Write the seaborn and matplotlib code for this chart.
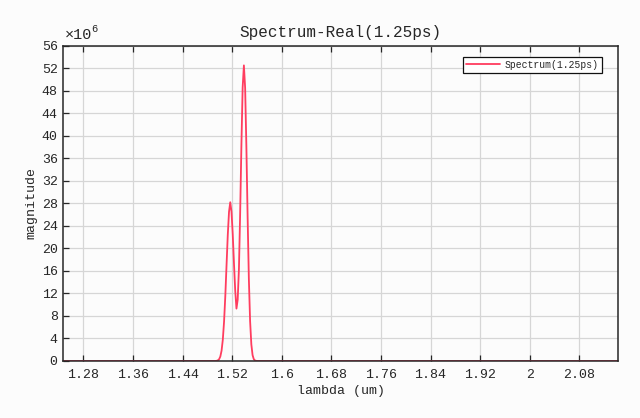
"""Spectrum plot: real part of the 1.25 ps pulse spectrum vs wavelength."""

import matplotlib
matplotlib.use("Agg")
import matplotlib.pyplot as plt
import pandas as pd
import seaborn as sns

# wavelength (um) and magnitude (x 1e6)
LAMBDA_UM = [
    1.2477, 1.493, 1.495, 1.497, 1.499, 1.501, 1.503, 1.505, 1.507, 1.509,
    1.511, 1.513, 1.515, 1.517, 1.519, 1.521, 1.523, 1.525, 1.527, 1.529,
    1.531, 1.533, 1.535, 1.537, 1.539, 1.541, 1.543, 1.545, 1.547, 1.549,
    1.551, 1.553, 1.555, 1.557, 1.559, 1.561, 1.563, 2.1429,
]
MAGNITUDE_E6 = [
    0.0, 0.0, 0.03, 0.11, 0.31, 0.80, 1.84, 3.79, 6.98, 11.5,
    17.0, 22.4, 26.5, 28.2, 26.5, 22.5, 17.3, 12.5, 9.3, 10.9,
    16.4, 26.4, 38.4, 48.6, 52.5, 48.5, 38.1, 25.6, 14.6, 7.1,
    2.95, 1.04, 0.31, 0.08, 0.02, 0.0, 0.0, 0.0,
]
X_TICKS = [1.28, 1.36, 1.44, 1.52, 1.60, 1.68, 1.76, 1.84, 1.92, 2.00, 2.08]
X_TICK_LABELS = ["1.28", "1.36", "1.44", "1.52", "1.6", "1.68", "1.76",
                 "1.84", "1.92", "2", "2.08"]
Y_TICKS = list(range(0, 57, 4))

LINE_COLOR = "#ff3d5f"
FONT = ["Liberation Mono", "DejaVu Sans Mono"]

sns.set_theme(style="whitegrid")
plt.rcParams["font.family"] = FONT
plt.rcParams["axes.unicode_minus"] = False

df = pd.DataFrame({"lambda": LAMBDA_UM, "magnitude": MAGNITUDE_E6})

fig = plt.figure(figsize=(6.4, 4.18), dpi=100, facecolor="#fcfcfc")
ax = fig.add_axes([0.0989, 0.1364, 0.8672, 0.7543])
ax.set_facecolor("#fcfcfc")

sns.lineplot(data=df, x="lambda", y="magnitude", color=LINE_COLOR,
             linewidth=1.3, ax=ax, label="Spectrum(1.25ps)")

ax.set_xlim(1.2477, 2.1429)
ax.set_ylim(0, 56)
ax.set_xticks(X_TICKS)
ax.set_xticklabels(X_TICK_LABELS)
ax.set_yticks(Y_TICKS)

ax.grid(True, color="#d6d6d6", linewidth=0.9)
for side, sp in ax.spines.items():
    sp.set_visible(True)
    sp.set_color("#262626")
    sp.set_linewidth(1.1)

ax.tick_params(axis="x", direction="in", length=4.5, width=0.9,
               color="#262626", top=True, bottom=True, labelsize=9.5,
               labelcolor="#262626", pad=6)
ax.tick_params(axis="y", direction="in", length=4.5, width=0.9,
               color="#262626", left=True, right=False, labelsize=9.5,
               labelcolor="#262626", pad=4)

ax.set_xlabel("lambda (um)", fontsize=9.5, color="#262626", labelpad=3)
ax.set_ylabel("magnitude", fontsize=9.5, color="#262626", labelpad=3)
ax.set_title("Spectrum-Real(1.25ps)", fontsize=11.5, color="#262626",
             pad=6)

# exponent marker, drawn like the usual "x10^6" offset text
ax.text(0.002, 1.012, "\u00d710", transform=ax.transAxes, fontsize=11,
        color="#262626", ha="left", va="bottom")
ax.text(0.0505, 1.036, "6", transform=ax.transAxes, fontsize=7.5,
        color="#262626", ha="left", va="bottom")

leg = ax.legend(loc="upper right", bbox_to_anchor=(0.970, 0.965),
                borderaxespad=0, fontsize=7, frameon=True, fancybox=False,
                framealpha=1, edgecolor="#111111", borderpad=0.3,
                handlelength=3.5, handletextpad=0.5)
leg.get_frame().set_linewidth(0.9)

fig.savefig("out.png", dpi=100, facecolor=fig.get_facecolor())
